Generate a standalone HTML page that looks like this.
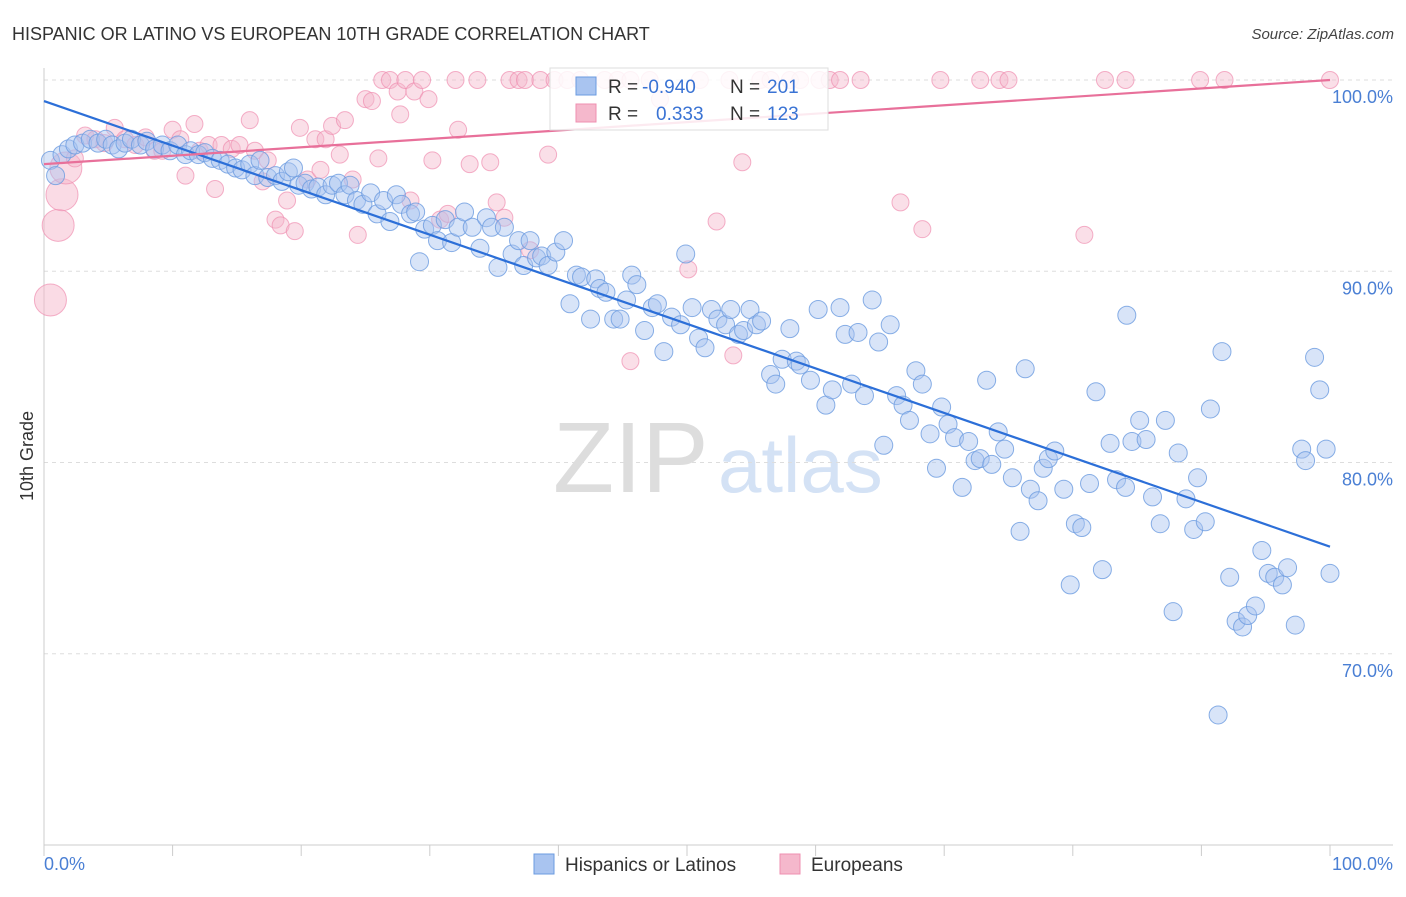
<!DOCTYPE html>
<html><head><meta charset="utf-8"><style>
body{margin:0;background:#fff;font-family:"Liberation Sans",sans-serif}
svg text{font-family:"Liberation Sans",sans-serif}
</style></head><body>
<svg id="chart" width="1406" height="892" viewBox="0 0 1406 892" xmlns="http://www.w3.org/2000/svg">
<text x="12" y="40" font-size="18" fill="#333">HISPANIC OR LATINO VS EUROPEAN 10TH GRADE CORRELATION CHART</text>
<text x="1394" y="39" font-size="15" fill="#444" text-anchor="end" font-style="italic">Source: ZipAtlas.com</text>
<g>
<text x="553" y="492" font-size="100" fill="#ddd" font-family="Liberation Serif">ZIP</text>
<text x="718" y="492" font-size="78" fill="#d4e2f5">atlas</text>
</g>
<g id="grid"></g>
<g id="axes"></g>
<g id="pinkPts"></g>
<g id="bluePts"></g>
<g id="lines"></g>
<g>
<rect x="550" y="68" width="278" height="62" fill="#fff" fill-opacity="0.85" stroke="#ddd"/>
<rect x="576" y="77" width="20" height="18" fill="#a9c4f0" stroke="#6b9be0"/>
<text x="608" y="93" font-size="19" fill="#333">R =</text>
<text x="642" y="93" font-size="19" fill="#3a73d4">-0.940</text>
<text x="730" y="93" font-size="19" fill="#333">N =</text>
<text x="767" y="93" font-size="19" fill="#3a73d4">201</text>
<rect x="576" y="104" width="20" height="18" fill="#f5b8cc" stroke="#ef8fb0"/>
<text x="608" y="120" font-size="19" fill="#333">R =</text>
<text x="656" y="120" font-size="19" fill="#3a73d4">0.333</text>
<text x="730" y="120" font-size="19" fill="#333">N =</text>
<text x="767" y="120" font-size="19" fill="#3a73d4">123</text>
</g>
<g>
<rect x="534" y="854" width="20" height="20" fill="#a9c4f0" stroke="#6b9be0"/>
<text x="565" y="871" font-size="19" fill="#333">Hispanics or Latinos</text>
<rect x="780" y="854" width="20" height="20" fill="#f5b8cc" stroke="#ef8fb0"/>
<text x="811" y="871" font-size="19" fill="#333">Europeans</text>
</g>
<text transform="translate(33,456) rotate(-90)" font-size="18" fill="#333" text-anchor="middle">10th Grade</text>
</svg>
<script>
const yTicks=[100,90,80,70];
const yTickLabels=["100.0%","90.0%","80.0%","70.0%"];
const xTickVals=[0,10,20,30,40,50,60,70,80,90,100];
const blueX=[0.5,0.9,1.4,1.9,2.4,3.0,3.6,4.2,4.8,5.3,5.8,6.3,6.8,7.5,8.0,8.6,9.2,9.8,10.4,11.0,11.4,12.0,12.5,13.1,13.7,14.3,14.9,15.4,16.0,16.4,16.8,17.4,18.0,18.5,19.0,19.4,19.8,20.3,20.8,21.3,21.9,22.4,22.9,23.4,23.8,24.3,24.8,25.4,25.9,26.4,26.9,27.4,27.8,28.5,28.9,29.2,29.6,30.2,30.6,31.2,31.7,32.2,32.7,33.3,33.9,34.4,34.8,35.3,35.8,36.4,36.9,37.3,37.8,38.3,38.7,39.2,39.8,40.4,40.9,41.4,41.8,42.5,42.9,43.2,43.7,44.3,44.8,45.3,45.7,46.1,46.7,47.3,47.7,48.2,48.8,49.5,49.9,50.4,50.9,51.4,51.9,52.4,53.0,53.4,54.0,54.4,54.9,55.4,55.8,56.5,56.9,57.4,58.0,58.5,58.8,59.6,60.2,60.8,61.3,61.9,62.3,62.8,63.3,63.8,64.4,64.9,65.3,65.8,66.3,66.8,67.3,67.8,68.3,68.9,69.4,69.8,70.3,70.8,71.4,71.9,72.4,72.8,73.3,73.7,74.2,74.7,75.3,75.9,76.3,76.7,77.3,77.7,78.1,78.6,79.3,79.8,80.2,80.7,81.3,81.8,82.3,82.9,83.4,84.1,84.2,84.6,85.2,85.7,86.2,86.8,87.2,87.8,88.2,88.8,89.4,89.7,90.3,90.7,91.3,91.6,92.2,92.7,93.2,93.6,94.2,94.7,95.2,95.7,96.3,96.7,97.3,97.8,98.1,98.8,99.2,99.7,100.0];
const blueY=[95.8,95.0,96.1,96.4,96.6,96.7,96.9,96.7,96.9,96.6,96.4,96.7,96.9,96.6,96.8,96.4,96.6,96.3,96.6,96.1,96.3,96.1,96.2,95.9,95.8,95.6,95.4,95.3,95.6,95.0,95.8,94.9,95.0,94.7,95.2,95.4,94.5,94.6,94.3,94.4,94.0,94.5,94.6,94.0,94.5,93.7,93.5,94.1,93.0,93.7,92.6,94.0,93.5,93.0,93.1,90.5,92.2,92.4,91.6,92.7,91.5,92.3,93.1,92.3,91.2,92.8,92.3,90.2,92.3,90.9,91.6,90.3,91.6,90.7,90.8,90.3,91.0,91.6,88.3,89.8,89.7,87.5,89.6,89.1,88.9,87.5,87.5,88.5,89.8,89.3,86.9,88.1,88.3,85.8,87.6,87.2,90.9,88.1,86.5,86.0,88.0,87.5,87.2,88.0,86.7,86.9,88.0,87.2,87.4,84.6,84.1,85.4,87.0,85.3,85.1,84.3,88.0,83.0,83.8,88.1,86.7,84.1,86.8,83.5,88.5,86.3,80.9,87.2,83.5,83.0,82.2,84.8,84.1,81.5,79.7,82.9,82.0,81.3,78.7,81.1,80.1,80.2,84.3,79.9,81.6,80.7,79.2,76.4,84.9,78.6,78.0,79.7,80.2,80.6,78.6,73.6,76.8,76.6,78.9,83.7,74.4,81.0,79.1,78.7,87.7,81.1,82.2,81.2,78.2,76.8,82.2,72.2,80.5,78.1,76.5,79.2,76.9,82.8,66.8,85.8,74.0,71.7,71.4,72.0,72.5,75.4,74.2,74.0,73.6,74.5,71.5,80.7,80.1,85.5,83.8,80.7,74.2];
const pinkX=[2.4,3.2,4.0,4.7,5.5,6.3,7.1,7.9,8.6,9.2,10.0,10.6,11.0,11.7,12.1,12.8,13.3,13.8,14.6,15.2,16.0,16.4,17.0,17.4,18.0,18.4,18.9,19.5,19.9,20.5,21.1,21.5,21.9,22.4,23.0,23.4,24.0,24.4,25.0,25.5,26.0,26.3,26.9,27.5,27.7,28.1,28.5,28.8,29.4,29.9,30.2,30.8,31.4,32.0,32.2,33.1,33.7,34.7,35.2,35.8,36.2,36.9,37.4,37.8,38.6,39.2,39.7,40.7,41.7,43.6,44.6,45.6,47.1,47.9,50.1,51.0,52.3,53.3,54.3,55.7,56.5,58.0,58.8,60.3,61.1,61.9,63.5,66.6,68.3,69.7,72.8,74.3,75.0,80.9,82.5,84.1,89.9,91.8,100,45.6,53.6];
const pinkY=[95.9,97.1,96.9,96.7,97.5,96.9,96.6,97.0,96.3,96.3,97.4,96.9,95.0,97.7,96.3,96.6,94.3,96.6,96.4,96.6,97.9,96.3,94.7,95.8,92.7,92.4,93.7,92.1,97.5,94.8,96.9,95.3,96.9,97.6,96.1,97.9,94.8,91.9,99.0,98.9,95.9,100,100,99.4,98.2,100,93.7,99.4,100,99.0,95.8,92.7,93.0,100,97.4,95.6,100,95.7,93.6,92.8,100,100,100,91.1,100,96.1,100,100,100,100,100,100,100,99.0,90.1,100,92.6,100,95.7,100,100,100,100,100,100,100,100,93.6,92.2,100,100,100,100,91.9,100,100,100,100,100,85.3,85.6];
const pinkBigX=[0.5,1.1,1.4,1.7];
const pinkBigY=[88.5,92.4,94.0,95.4];
const blueTrend=[98.9,75.6];
const pinkTrend=[95.6,100.0];

const NS="http://www.w3.org/2000/svg";
const X0=44,X1=1330,Y0=845,Y1=80;
const xs=v=>X0+(X1-X0)*v/100;
const ys=v=>Y0-(Y0-Y1)*(v-60)/40;
function mk(tag,attrs,parent){const e=document.createElementNS(NS,tag);for(const k in attrs)e.setAttribute(k,attrs[k]);parent.appendChild(e);return e;}
const grid=document.getElementById('grid'),axes=document.getElementById('axes');
yTicks.forEach((t,i)=>{
  const l=mk('line',{x1:X0,x2:1393,y1:ys(t),y2:ys(t),stroke:'#ddd','stroke-dasharray':'4,4'},grid);
  
  
  const tx=mk('text',{x:1393,y:ys(t)+23,'font-size':18,fill:'#4a7fd4','text-anchor':'end'},axes);
  tx.textContent=yTickLabels[i];
  
  
});
const yl=mk('line',{x1:X0,x2:X0,y1:68,y2:Y0,stroke:'#ccc'},axes);


const xl=mk('line',{x1:X0,x2:1393,y1:Y0,y2:Y0,stroke:'#ccc'},axes);


xTickVals.forEach(t=>{
  const k=mk('line',{x1:xs(t),x2:xs(t),y1:Y0,y2:Y0+11,stroke:'#ccc'},axes);
  
  
});
const xa=mk('text',{x:44,y:870,'font-size':18,fill:'#4a7fd4'},axes);xa.textContent='0.0%';


const xb=mk('text',{x:1393,y:870,'font-size':18,fill:'#4a7fd4','text-anchor':'end'},axes);xb.textContent='100.0%';


const pg=document.getElementById('pinkPts');
pinkBigX.forEach((x,i)=>{
  const c=mk('circle',{cx:xs(x),cy:ys(pinkBigY[i]),r:16,fill:'#f5b8cc','fill-opacity':0.5,stroke:'#ef8fb0','stroke-opacity':0.7},pg);
  
  
});
pinkX.forEach((x,i)=>{
  const c=mk('circle',{cx:xs(x),cy:ys(pinkY[i]),r:8.5,fill:'#f5b8cc','fill-opacity':0.45,stroke:'#ef8fb0','stroke-opacity':0.7},pg);
  
  
});
const bg=document.getElementById('bluePts');
blueX.forEach((x,i)=>{
  const c=mk('circle',{cx:xs(x),cy:ys(blueY[i]),r:9,fill:'#a9c4f0','fill-opacity':0.45,stroke:'#6b9be0','stroke-opacity':0.8},bg);
  
  
});
const lg=document.getElementById('lines');
const bl=mk('line',{x1:xs(0),y1:ys(blueTrend[0]),x2:xs(100),y2:ys(blueTrend[1]),stroke:'#2c6fd8','stroke-width':2.2},lg);


const pl=mk('line',{x1:xs(0),y1:ys(pinkTrend[0]),x2:xs(100),y2:ys(pinkTrend[1]),stroke:'#e8709a','stroke-width':2.2},lg);


</script>
</body></html>
